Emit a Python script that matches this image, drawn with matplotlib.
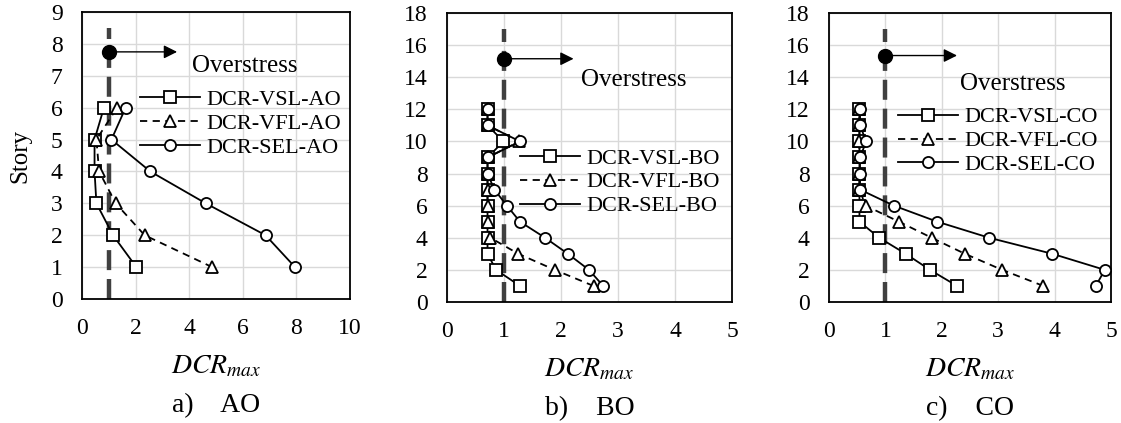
import numpy as np
import matplotlib.pyplot as plt

plt.rcParams['font.family'] = ['Liberation Serif', 'DejaVu Serif']
plt.rcParams['mathtext.fontset'] = 'stix'

# Maximum demand-capacity ratio per story
stories_a = [1, 2, 3, 4, 5, 6]
vsl_a = [2.03, 1.16, 0.54, 0.47, 0.47, 0.82]
vfl_a = [4.86, 2.34, 1.26, 0.64, 0.54, 1.31]
sel_a = [7.95, 6.85, 4.62, 2.55, 1.10, 1.63]

stories_bc = [1, 2, 3, 4, 5, 6, 7, 8, 9, 10, 11, 12]
vsl_b = [1.28, 0.86, 0.71, 0.71, 0.71, 0.71, 0.71, 0.71, 0.71, 0.99, 0.71, 0.71]
vfl_b = [2.57, 1.89, 1.25, 0.76, 0.71, 0.71, 0.71, 0.71, 0.71, 1.27, 0.71, 0.71]
sel_b = [2.74, 2.49, 2.12, 1.72, 1.28, 1.05, 0.83, 0.71, 0.71, 1.28, 0.71, 0.71]

vsl_c = [2.27, 1.79, 1.36, 0.89, 0.54, 0.54, 0.54, 0.54, 0.54, 0.54, 0.54, 0.54]
vfl_c = [3.80, 3.07, 2.41, 1.82, 1.24, 0.65, 0.54, 0.54, 0.54, 0.54, 0.54, 0.54]
sel_c = [4.73, 4.89, 3.96, 2.84, 1.92, 1.15, 0.55, 0.55, 0.55, 0.66, 0.55, 0.55]

panels = [
    dict(tag='AO', cap='a)', stories=stories_a, vsl=vsl_a, vfl=vfl_a, sel=sel_a,
         xmax=10, xstep=2, ymax=9, ystep=1, lim_top=8.5, dot_y=7.75, arrow_x=3.55,
         text_xy=(4.1, 7.3), leg=(0.216, 0.73),
         rect=[0.0731, 0.2931, 0.2391, 0.6785]),
    dict(tag='BO', cap='b)', stories=stories_bc, vsl=vsl_b, vfl=vfl_b, sel=sel_b,
         xmax=5, xstep=1, ymax=18, ystep=2, lim_top=17, dot_y=15.15, arrow_x=2.22,
         text_xy=(2.35, 13.8), leg=(0.256, 0.533),
         rect=[0.3988, 0.2861, 0.2542, 0.6832]),
    dict(tag='CO', cap='c)', stories=stories_bc, vsl=vsl_c, vfl=vfl_c, sel=sel_c,
         xmax=5, xstep=1, ymax=18, ystep=2, lim_top=17, dot_y=15.35, arrow_x=2.27,
         text_xy=(2.33, 13.6), leg=(0.245, 0.675),
         rect=[0.7395, 0.2861, 0.2516, 0.6832]),
]

fig = plt.figure(figsize=(11.21, 4.23), dpi=100)

for i, p in enumerate(panels):
    ax = fig.add_axes(p['rect'])
    ax.set_xlim(0, p['xmax'])
    ax.set_ylim(0, p['ymax'])
    ax.set_xticks(np.arange(0, p['xmax'] + 0.1, p['xstep']))
    ax.set_yticks(np.arange(0, p['ymax'] + 0.1, p['ystep']))
    ax.grid(True, color='#d9d9d9', lw=1.0)
    ax.set_axisbelow(True)
    ax.tick_params(length=0, pad=14, labelsize=17)
    for s in ax.spines.values():
        s.set_linewidth(1.3)

    # DCR = 1 limit line
    ax.plot([1, 1], [0, p['lim_top']], color='#404040', lw=3.2,
            dashes=(4.5, 2.0), solid_capstyle='butt', zorder=2)

    mk = dict(markersize=8, markerfacecolor='white', markeredgecolor='black',
              markeredgewidth=1.3, color='black', lw=1.3)
    ax.plot(p['vsl'], p['stories'], 's-', label='DCR-VSL-' + p['tag'], zorder=3, **mk)
    ax.plot(p['vfl'], p['stories'], '^--', label='DCR-VFL-' + p['tag'], zorder=3,
            dashes=(4, 3), **mk)
    ax.plot(p['sel'], p['stories'], 'o-', label='DCR-SEL-' + p['tag'], zorder=3, **mk)

    # overstress marker
    ax.annotate('', xy=(p['arrow_x'], p['dot_y']), xytext=(1, p['dot_y']),
                arrowprops=dict(arrowstyle='-|>', color='black', lw=1.0,
                                mutation_scale=20, shrinkA=0, shrinkB=0), zorder=4)
    ax.plot([1], [p['dot_y']], 'o', color='black', markersize=10, zorder=5)
    ax.text(p['text_xy'][0], p['text_xy'][1], 'Overstress', fontsize=18,
            ha='left', va='center')

    ax.legend(loc='upper left', bbox_to_anchor=p['leg'], frameon=False,
              fontsize=16, handlelength=2.7, handletextpad=0.3,
              labelspacing=0.15, borderaxespad=0, borderpad=0)

    ax.text(0.5, -0.235, r'$DCR_{max}$', transform=ax.transAxes,
            ha='center', va='center', fontsize=20)
    ax.text(0.5, -0.37, p['cap'] + '    ' + p['tag'], transform=ax.transAxes,
            ha='center', va='center', fontsize=20)
    if i == 0:
        ax.set_ylabel('Story', fontsize=18)
        ax.yaxis.set_label_coords(-0.19, 0.5)

fig.savefig('out.png', dpi=100)
